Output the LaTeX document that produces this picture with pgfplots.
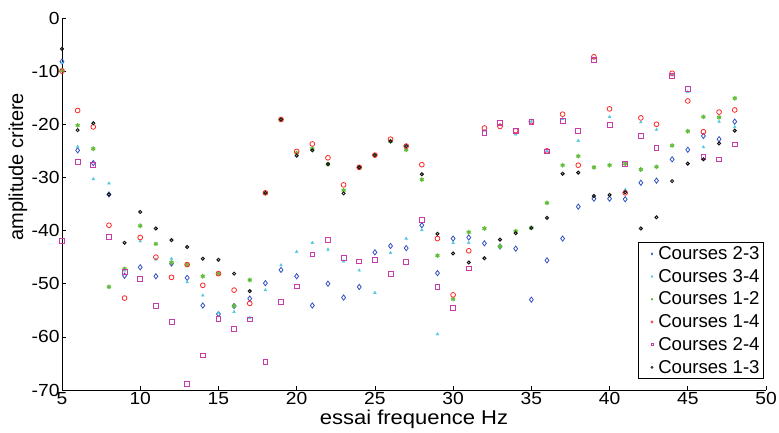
\documentclass[border=0pt]{standalone}
\usepackage{pgfplots}
\pgfplotsset{compat=1.18}
\usepackage{fontspec}
\setmainfont{Liberation Sans}
\newfontfamily\widefont[FakeStretch=1.1]{Liberation Sans}
\definecolor{cblue}{RGB}{50,80,190}
\definecolor{ccyan}{RGB}{80,200,225}
\definecolor{cgreen}{RGB}{100,190,60}
\definecolor{cred}{RGB}{255,40,40}
\definecolor{cmag}{RGB}{200,60,170}
\definecolor{cblack}{RGB}{20,20,20}
\begin{document}
\begin{tikzpicture}
\useasboundingbox (-62pt,-42pt) rectangle (717pt,390pt);
\begin{axis}[
  at={(0,0)}, anchor=south west,
  scale only axis, width=704pt, height=372pt,
  xmin=5, xmax=50, ymin=-70, ymax=0,
  xtick={5,10,...,50}, ytick={-70,-60,...,0},
  axis x line*=bottom, axis y line*=left,
  axis line style={line width=0.8pt, -},
  tick align=inside, major tick length=4pt,
  tick style={black, line width=0.6pt},
  /pgf/number format/assume math mode=true,
  ticklabel style={font=\widefont\fontsize{17.5}{19}\selectfont},
  yticklabel style={xshift=1pt},
  xticklabel style={yshift=1.5pt},
  xlabel={essai frequence Hz},
  ylabel={amplitude critere},
  xlabel style={font=\widefont\fontsize{20}{22}\selectfont, at={(axis description cs:0.5,0)}, anchor=center, yshift=-29pt},
  ylabel style={font=\fontsize{20}{22}\selectfont, at={(axis description cs:0,0.6)}, anchor=center, yshift=44pt},
  legend style={at={(0.997,0.03)}, anchor=south east, draw=black, line width=0.6pt,
    font=\fontsize{18.6}{21}\selectfont, row sep=4.2pt, inner sep=2pt},
  legend image code/.code={\path[draw=none,fill=none] (0cm,-0.05cm) rectangle (0.55cm,0.05cm); \draw[#1, draw=none] plot[only marks] coordinates {(0.4cm,0cm)};},
  legend image post style={mark size=1.1pt, line width=0.6pt},
  legend cell align=left,
  clip=false,
]
\addplot[only marks, mark=diamond, mark size=2.6pt, color=cblue, line width=0.8pt] coordinates {
(5,-8.2)(6,-24.9)(7,-27.3)(8,-33.2)(9,-48.5)(10,-46.9)(11,-48.6)(12,-46.2)(13,-48.9)(14,-54.1)
(15,-55.7)(16,-54.2)(17,-52.8)(18,-49.9)(19,-47.4)(20,-48.6)(21,-54.1)(22,-50.0)(23,-52.6)(24,-50.6)
(25,-44.1)(26,-42.9)(27,-43.3)(28,-39.0)(29,-48.0)(30,-41.5)(31,-41.3)(32,-42.4)(33,-43.0)(34,-43.4)
(35,-53.0)(36,-45.6)(37,-41.5)(38,-35.5)(39,-34.0)(40,-34.0)(41,-34.1)(42,-31.0)(43,-30.6)(44,-26.6)
(45,-24.8)(46,-22.2)(47,-22.8)(48,-19.5)};
\addlegendentry{Courses 2-3}
\addplot[only marks, mark=triangle*, mark size=1.6pt, color=ccyan] coordinates {
(5,-8.5)(6,-24.2)(7,-30.3)(8,-31.1)(9,-47.5)(10,-42.0)(11,-45.4)(12,-45.3)(13,-49.7)(14,-52.2)
(15,-55.5)(16,-55.3)(17,-56.4)(18,-51.2)(19,-46.5)(20,-44.0)(21,-42.3)(22,-43.6)(23,-45.8)(24,-47.5)
(25,-51.7)(26,-44.2)(27,-41.5)(28,-39.9)(29,-59.5)(30,-42.3)(31,-42.3)(32,-21.2)(33,-20.1)(34,-21.9)
(35,-19.5)(36,-25.0)(37,-19.0)(38,-23.1)(39,-7.6)(40,-18.6)(41,-32.3)(42,-19.6)(43,-21.0)(44,-10.6)
(45,-13.9)(46,-24.3)(47,-19.5)(48,-20.5)};
\addlegendentry{Courses 3-4}
\addplot[only marks, mark=asterisk, mark size=2.3pt, color=cgreen, line width=1.2pt] coordinates {
(5,-9.8)(6,-20.2)(7,-24.6)(8,-50.6)(9,-47.2)(10,-39.1)(11,-42.5)(12,-46.0)(13,-46.4)(14,-48.6)
(15,-48.1)(16,-54.2)(17,-49.3)(18,-32.9)(19,-19.1)(20,-25.4)(21,-24.6)(22,-27.5)(23,-32.4)(24,-28.1)
(25,-25.8)(26,-23.2)(27,-24.8)(28,-30.4)(29,-44.7)(30,-52.9)(31,-40.3)(32,-39.6)(33,-43.0)(34,-40.1)
(35,-39.5)(36,-34.8)(37,-27.7)(38,-26.0)(39,-28.1)(40,-27.7)(41,-27.4)(42,-28.5)(43,-28.0)(44,-24.0)
(45,-21.3)(46,-18.6)(47,-18.7)(48,-15.1)};
\addlegendentry{Courses 1-2}
\addplot[only marks, mark=o, mark size=2.4pt, color=cred, line width=0.8pt] coordinates {
(5,-10.0)(6,-17.4)(7,-20.5)(8,-39.0)(9,-52.7)(10,-41.3)(11,-45.0)(12,-48.8)(13,-46.4)(14,-50.3)
(15,-48.1)(16,-51.2)(17,-53.7)(18,-32.9)(19,-19.1)(20,-25.1)(21,-23.7)(22,-26.3)(23,-31.4)(24,-28.1)
(25,-25.8)(26,-22.8)(27,-24.1)(28,-27.6)(29,-41.5)(30,-52.1)(31,-43.8)(32,-20.7)(33,-20.4)(34,-21.2)
(35,-19.5)(36,-25.0)(37,-18.1)(38,-27.7)(39,-7.3)(40,-17.1)(41,-32.9)(42,-18.8)(43,-20.0)(44,-10.4)
(45,-15.6)(46,-21.4)(47,-17.7)(48,-17.3)};
\addlegendentry{Courses 1-4}
\addplot[only marks, mark=square, mark size=2.4pt, color=cmag, line width=0.8pt] coordinates {
(5,-41.9)(6,-27.1)(7,-27.6)(8,-41.2)(9,-47.8)(10,-49.1)(11,-54.1)(12,-57.2)(13,-68.8)(14,-63.5)
(15,-56.6)(16,-58.5)(17,-56.7)(18,-64.7)(19,-53.4)(20,-50.5)(21,-44.5)(22,-41.7)(23,-45.1)(24,-45.8)
(25,-45.5)(26,-48.2)(27,-45.9)(28,-38.0)(29,-50.6)(30,-54.6)(31,-47.1)(32,-21.6)(33,-19.8)(34,-21.2)
(35,-19.5)(36,-25.1)(37,-19.3)(38,-21.2)(39,-7.9)(40,-20.1)(41,-27.4)(42,-22.2)(43,-24.4)(44,-10.9)
(45,-13.3)(46,-26.1)(47,-26.6)(48,-23.8)};
\addlegendentry{Courses 2-4}
\addplot[only marks, mark=o, mark size=1.5pt, color=cblack, line width=1.0pt] coordinates {
(5,-5.8)(6,-21.1)(7,-19.8)(8,-33.2)(9,-42.3)(10,-36.5)(11,-39.6)(12,-41.8)(13,-43.1)(14,-45.3)
(15,-45.5)(16,-48.1)(17,-51.4)(18,-32.9)(19,-19.1)(20,-25.9)(21,-24.9)(22,-27.5)(23,-33.0)(24,-28.1)
(25,-25.8)(26,-23.2)(27,-24.1)(28,-29.4)(29,-40.6)(30,-44.3)(31,-46.0)(32,-45.2)(33,-41.7)(34,-40.5)
(35,-39.5)(36,-37.6)(37,-29.3)(38,-29.1)(39,-33.5)(40,-33.3)(41,-32.8)(42,-39.6)(43,-37.5)(44,-30.7)
(45,-27.4)(46,-26.6)(47,-23.6)(48,-21.2)};
\addlegendentry{Courses 1-3}
\end{axis}
\end{tikzpicture}
\end{document}
